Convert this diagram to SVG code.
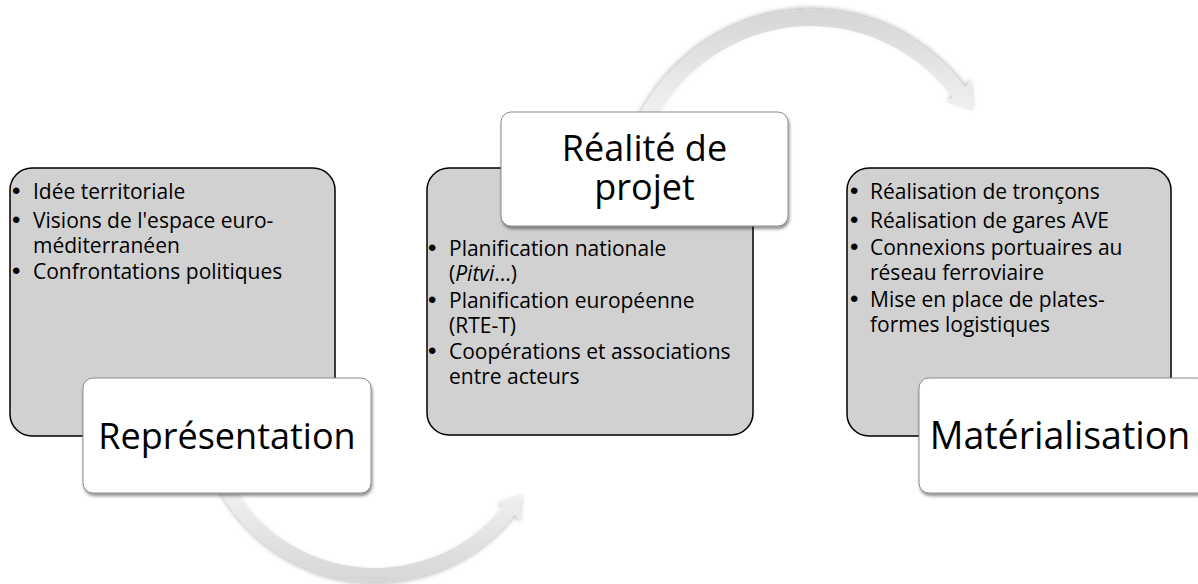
<svg xmlns="http://www.w3.org/2000/svg" width="1198" height="584" viewBox="0 0 1198 584">
<defs>
<linearGradient id="arrowGrad" x1="0" y1="0" x2="0" y2="1">
<stop offset="0" stop-color="#f4f4f4"/>
<stop offset="1" stop-color="#d6d6d6"/>
</linearGradient>
<filter id="shadow" x="-10%" y="-10%" width="130%" height="140%">
<feDropShadow dx="1" dy="2.5" stdDeviation="1.8" flood-color="#000" flood-opacity="0.45"/>
</filter>
<filter id="arrowShadow" x="-10%" y="-10%" width="130%" height="140%">
<feDropShadow dx="0" dy="2" stdDeviation="2" flood-color="#000" flood-opacity="0.25"/>
</filter>
<path id="curvedArrow" d="M -157.2 83.6 A 178 178 0 0 0 139.3 110.8 L 144.8 115.2 L 146.6 89.9 L 122.9 97.7 L 128.3 102.1 A 164 164 0 0 1 -144.8 77.0 Z"/>
</defs>
<style>
.panel { fill: #d1d1d1; stroke: #000; stroke-width: 1.5; }
.label { fill: #fff; stroke: #8c8c8c; stroke-width: 1; filter: url(#shadow); }
.arrow { fill: url(#arrowGrad); filter: url(#arrowShadow); }
.item { font-family: "Open Sans", "Liberation Sans", sans-serif; font-size: 21px; fill: #000; }
.bullet { font-family: "Liberation Sans", sans-serif; font-size: 24px; fill: #000; }
.title { font-family: "Open Sans", "Liberation Sans", sans-serif; font-size: 36px; fill: #000; text-anchor: middle; }
</style>

<g id="connectors">
<use href="#curvedArrow" class="arrow" transform="translate(375,404)"/>
<use href="#curvedArrow" class="arrow" transform="translate(811,214.6) scale(1.105,-1.15)"/>
</g>

<g id="node-representation">
<rect class="panel" x="10" y="168" width="325" height="268" rx="22" ry="22"/>
<text class="bullet" x="12" y="199">•</text><text class="item" x="33" y="199">Idée territoriale</text>
<text class="bullet" x="12" y="228">•</text><text class="item" x="33" y="228">Visions de l'espace euro-</text>
<text class="item" x="33" y="253">méditerranéen</text>
<text class="bullet" x="12" y="279">•</text><text class="item" x="33" y="279">Confrontations politiques</text>
<rect class="label" x="83" y="378" width="288" height="115" rx="10" ry="10"/>
<text class="title" x="227" y="449">Représentation</text>
</g>

<g id="node-realite">
<rect class="panel" x="427" y="168" width="326" height="267" rx="22" ry="22"/>
<text class="bullet" x="428" y="256">•</text><text class="item" x="449" y="256">Planification nationale</text>
<text class="item" x="449" y="281">(<tspan font-style="italic">Pitvi</tspan>...)</text>
<text class="bullet" x="428" y="308">•</text><text class="item" x="449" y="308">Planification européenne</text>
<text class="item" x="449" y="333">(RTE-T)</text>
<text class="bullet" x="428" y="359">•</text><text class="item" x="449" y="359">Coopérations et associations</text>
<text class="item" x="449" y="384">entre acteurs</text>
<rect class="label" x="501" y="112" width="287" height="114" rx="10" ry="10"/>
<text class="title" x="644.5" y="161">Réalité de</text>
<text class="title" x="644.5" y="200">projet</text>
</g>

<g id="node-materialisation">
<rect class="panel" x="847" y="168" width="324" height="268" rx="22" ry="22"/>
<text class="bullet" x="850" y="199">•</text><text class="item" x="870" y="199">Réalisation de tronçons</text>
<text class="bullet" x="850" y="228">•</text><text class="item" x="870" y="228">Réalisation de gares AVE</text>
<text class="bullet" x="850" y="255">•</text><text class="item" x="870" y="255">Connexions portuaires au</text>
<text class="item" x="870" y="280">réseau ferroviaire</text>
<text class="bullet" x="850" y="307">•</text><text class="item" x="870" y="307">Mise en place de plates-</text>
<text class="item" x="870" y="332">formes logistiques</text>
<rect class="label" x="919" y="378" width="288" height="115" rx="10" ry="10"/>
<text class="title" x="1060" y="449" style="font-size:37.5px">Matérialisation</text>
</g>
</svg>
